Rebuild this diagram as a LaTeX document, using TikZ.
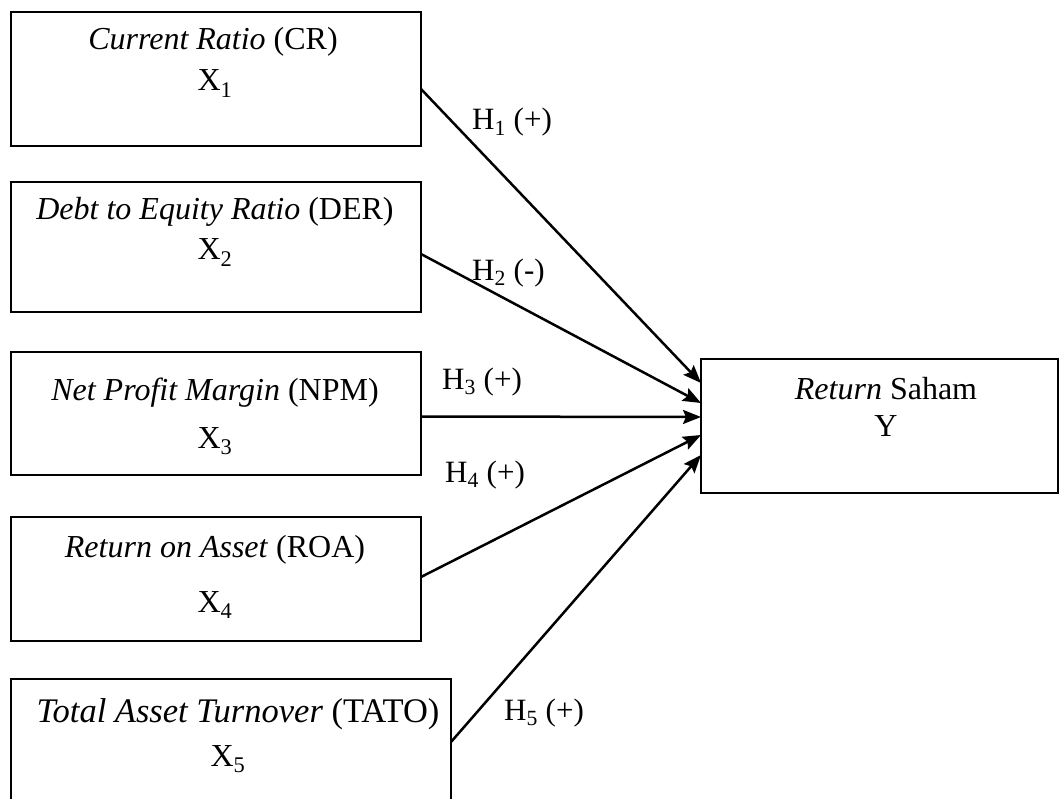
\documentclass[tikz,border=0pt]{standalone}
\usepackage{fontspec}
\setmainfont{Liberation Serif}
\usetikzlibrary{arrows.meta}
\begin{document}
\begin{tikzpicture}[x=1pt,y=-1pt,
  varbox/.style={draw,line width=2pt,rectangle,inner sep=0pt,outer sep=0pt,anchor=north west},
  txt/.style={inner sep=0pt,anchor=base,font=\fontsize{32}{36}\selectfont},
  bigtxt/.style={inner sep=0pt,anchor=base,font=\fontsize{34.5}{38}\selectfont},
  hyp/.style={inner sep=0pt,anchor=base west,font=\fontsize{31}{36}\selectfont},
  link/.style={line width=2.5pt,-{Stealth[length=18pt,width=14pt,inset=3pt]}}]
\clip (0,0) rectangle (1059,799);
\node[varbox,minimum width=410pt,minimum height=134pt] (b1) at (11,12) {};
\node[varbox,minimum width=410pt,minimum height=130pt] (b2) at (11,182) {};
\node[varbox,minimum width=410pt,minimum height=123pt] (b3) at (11,352) {};
\node[varbox,minimum width=410pt,minimum height=124pt] (b4) at (11,517) {};
\node[varbox,minimum width=440pt,minimum height=150pt] (b5) at (11,679) {};
\node[varbox,minimum width=357pt,minimum height=134pt] (y) at (701,359) {};

\node[txt] (t1) at (213,50) {\textit{Current Ratio} (CR)};
\node[txt] (x1) at (215,91) {X\textsubscript{1}};
\node[txt] (t2) at (215,220) {\textit{Debt to Equity Ratio} (DER)};
\node[txt] (x2) at (215,260) {X\textsubscript{2}};
\node[txt] (t3) at (215,400) {\textit{Net Profit Margin} (NPM)};
\node[txt] (x3) at (215,448) {X\textsubscript{3}};
\node[txt] (t4) at (215,557) {\textit{Return on Asset} (ROA)};
\node[txt] (x4) at (215,612) {X\textsubscript{4}};
\node[bigtxt] (t5) at (238,722) {\textit{Total Asset Turnover} (TATO)};
\node[txt] (x5) at (228,766) {X\textsubscript{5}};
\node[txt] (ty) at (886,399) {\textit{Return} Saham};
\node[txt] (yy) at (886,436) {Y};

\draw[link] ([yshift=-10pt]b1.east) -- ([yshift=43pt]y.west);
\draw[link] ([yshift=-7pt]b2.east) -- ([yshift=23pt]y.west);
\draw[link] ([yshift=-3pt]b3.east) -- ([yshift=9pt]y.west);
\draw[link] ([yshift=2pt]b4.east) -- ([yshift=-9pt]y.west);
\coordinate (s5) at (451,742);
\draw[link] (s5) -- ([yshift=-29pt]y.west);

\node[hyp] (h1) at (472,130) {H\textsubscript{1} (+)};
\node[hyp] (h2) at (472,280) {H\textsubscript{2} (-)};
\node[hyp] (h3) at (442,389) {H\textsubscript{3} (+)};
\node[hyp] (h4) at (445,482) {H\textsubscript{4} (+)};
\node[hyp] (h5) at (504,720) {H\textsubscript{5} (+)};
\end{tikzpicture}
\end{document}
